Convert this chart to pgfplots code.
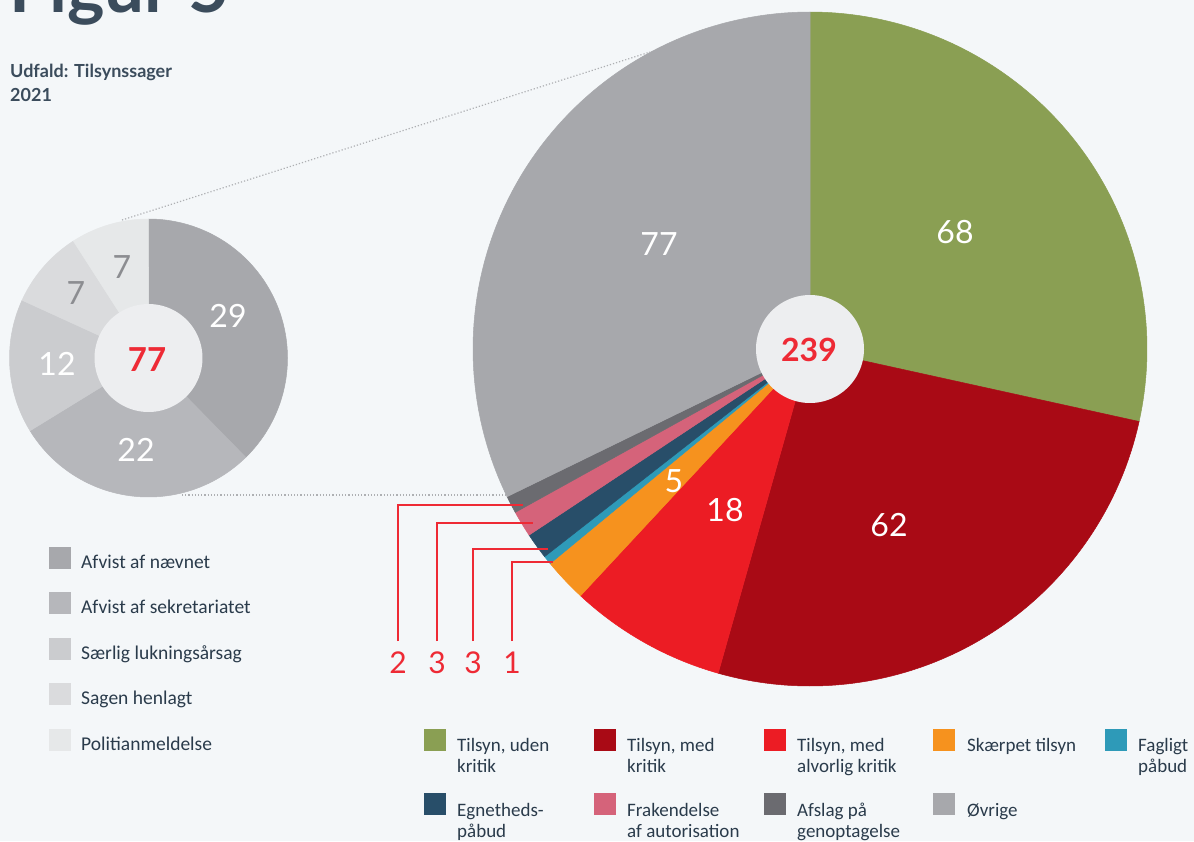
\documentclass[border=0pt]{standalone}
\usepackage{fontspec}
\setmainfont{Lato}
\newfontfamily\legendfont{Carlito}
\usepackage{pgfplots}
\pgfplotsset{compat=1.18}

\definecolor{bg}{HTML}{F4F7F9}
\definecolor{titlecol}{HTML}{3B4C5C}
\definecolor{txt}{HTML}{2A3B4B}
\definecolor{cGreen}{HTML}{8A9F53}
\definecolor{cDarkRed}{HTML}{A90A15}
\definecolor{cRed}{HTML}{EC1C24}
\definecolor{cOrange}{HTML}{F6921E}
\definecolor{cTeal}{HTML}{2E9AB8}
\definecolor{cNavy}{HTML}{284E69}
\definecolor{cPink}{HTML}{D5637A}
\definecolor{cDGray}{HTML}{6B6B70}
\definecolor{cGray}{HTML}{A7A8AC}
\definecolor{sA}{HTML}{A7A8AC}
\definecolor{sB}{HTML}{B6B7BB}
\definecolor{sC}{HTML}{CBCCCF}
\definecolor{sD}{HTML}{DADBDD}
\definecolor{sE}{HTML}{E6E8E9}
\definecolor{hole}{HTML}{EDEEF0}
\definecolor{callout}{HTML}{EE2A35}
\definecolor{sevencol}{HTML}{8C8D91}
\definecolor{dots}{HTML}{AEB0B3}

% #1 cx, #2 cy, #3 r, #4 total, #5 list value/color (clockwise from 12 o'clock)
\newcommand\drawpie[5]{%
  \gdef\cumval{0}%
  \foreach \v/\c in {#5} {%
    \pgfmathsetmacro\aS{\cumval/#4*360}%
    \pgfmathsetmacro\aE{(\cumval+\v)/#4*360}%
    \edef\tmp{\noexpand\addplot[fill=\c, draw=\c, line width=0.5pt, domain=\aS:\aE, samples=120]
      ({#1+#3*sin(x)},{#2-#3*cos(x)}) -- (axis cs:#1,#2) -- cycle;}%
    \tmp
    \pgfmathsetmacro\newcum{\cumval+\v}%
    \xdef\cumval{\newcum}%
  }%
}

\begin{document}
\begin{tikzpicture}[x=1pt,y=1pt]
\useasboundingbox (0,0) rectangle (1194,841);
\fill[bg] (0,0) rectangle (1194,841);
\begin{axis}[at={(0,0)}, anchor=south west, scale only axis,
  width=1194pt, height=841pt, xmin=0, xmax=1194, ymin=0, ymax=841,
  y dir=reverse, hide axis, clip=false]

% titles
\node[anchor=base west, inner sep=0, text=titlecol, font=\fontsize{71}{71}\selectfont\bfseries] at (axis cs:9,12) {Figur 5};
\node[anchor=base west, inner sep=0, text=titlecol, font=\fontsize{18}{22}\selectfont\bfseries] at (axis cs:10,77) {Udfald: Tilsynssager};
\node[anchor=base west, inner sep=0, text=titlecol, font=\fontsize{18}{22}\selectfont\bfseries] at (axis cs:10,101) {2021};

% connector dotted lines
\addplot[dots, dotted, line width=1.2pt] coordinates {(122,220) (650,52)};
\addplot[dots, dotted, line width=1.2pt] coordinates {(182,495) (508,495)};

% big pie
\drawpie{810}{349}{337}{239}{68/cGreen,62/cDarkRed,18/cRed,5/cOrange,1/cTeal,3/cNavy,3/cPink,2/cDGray,77/cGray}
\addplot[fill=hole, draw=none, domain=0:360, samples=120] ({810+54*sin(x)},{349-54*cos(x)}) -- cycle;

% small pie
\drawpie{148.5}{358}{139}{77}{29/sA,22/sB,12/sC,7/sD,7/sE}
\addplot[fill=hole, draw=none, domain=0:360, samples=120] ({148.5+54*sin(x)},{358-54*cos(x)}) -- cycle;

% slice labels
\begin{scope}[every node/.style={font=\fontsize{32}{32}\selectfont, text=white, inner sep=0}]
\node at (axis cs:955,232) {68};
\node at (axis cs:889,525) {62};
\node at (axis cs:725,510) {18};
\node at (axis cs:674,481) {5};
\node at (axis cs:659,244) {77};
\node at (axis cs:228,316) {29};
\node at (axis cs:136,450) {22};
\node at (axis cs:57,364) {12};
\node[text=sevencol] at (axis cs:76,293) {7};
\node[text=sevencol] at (axis cs:122,267) {7};
\end{scope}
\node[font=\fontsize{32}{32}\selectfont\bfseries, text=callout, inner sep=0] at (axis cs:809,350) {239};
\node[font=\fontsize{33}{33}\selectfont\bfseries, text=callout, inner sep=0] at (axis cs:147,360) {77};

% callouts for small slices
\addplot[callout, line width=1.3pt] coordinates {(398,641) (398,505) (523,505)};
\addplot[callout, line width=1.3pt] coordinates {(437,641) (437,523) (533,523)};
\addplot[callout, line width=1.3pt] coordinates {(473,641) (473,549) (548,549)};
\addplot[callout, line width=1.3pt] coordinates {(512,641) (512,562) (553,562)};
\begin{scope}[every node/.style={font=\fontsize{30}{30}\selectfont, text=callout, inner sep=0}]
\node at (axis cs:398,663) {2};
\node at (axis cs:437,663) {3};
\node at (axis cs:473,663) {3};
\node at (axis cs:512,663) {1};
\end{scope}

% left legend (small pie)
\addplot[only marks, mark=square*, mark size=10.5pt, mark options={draw=sA, fill=sA}] coordinates {(59.5,557.5)};
\addplot[only marks, mark=square*, mark size=10.5pt, mark options={draw=sB, fill=sB}] coordinates {(59.5,603)};
\addplot[only marks, mark=square*, mark size=10.5pt, mark options={draw=sC, fill=sC}] coordinates {(59.5,648.5)};
\addplot[only marks, mark=square*, mark size=10.5pt, mark options={draw=sD, fill=sD}] coordinates {(59.5,694)};
\addplot[only marks, mark=square*, mark size=10.5pt, mark options={draw=sE, fill=sE}] coordinates {(59.5,739.5)};
\begin{scope}[every node/.style={anchor=base west, inner sep=0, text=txt, font=\legendfont\fontsize{19.5}{21.5}\selectfont}]
\node at (axis cs:81,568) {Afvist af nævnet};
\node at (axis cs:81,613.5) {Afvist af sekretariatet};
\node at (axis cs:81,659) {Særlig lukningsårsag};
\node at (axis cs:81,704.5) {Sagen henlagt};
\node at (axis cs:81,750) {Politianmeldelse};
\end{scope}

% bottom legend (big pie)
\addplot[only marks, mark=square*, mark size=10.5pt, mark options={draw=cGreen, fill=cGreen}] coordinates {(435,739.5)};
\addplot[only marks, mark=square*, mark size=10.5pt, mark options={draw=cDarkRed, fill=cDarkRed}] coordinates {(605,739.5)};
\addplot[only marks, mark=square*, mark size=10.5pt, mark options={draw=cRed, fill=cRed}] coordinates {(775,739.5)};
\addplot[only marks, mark=square*, mark size=10.5pt, mark options={draw=cOrange, fill=cOrange}] coordinates {(944,739.5)};
\addplot[only marks, mark=square*, mark size=10.5pt, mark options={draw=cTeal, fill=cTeal}] coordinates {(1116,739.5)};
\addplot[only marks, mark=square*, mark size=10.5pt, mark options={draw=cNavy, fill=cNavy}] coordinates {(435,804)};
\addplot[only marks, mark=square*, mark size=10.5pt, mark options={draw=cPink, fill=cPink}] coordinates {(605,804)};
\addplot[only marks, mark=square*, mark size=10.5pt, mark options={draw=cDGray, fill=cDGray}] coordinates {(775,804)};
\addplot[only marks, mark=square*, mark size=10.5pt, mark options={draw=cGray, fill=cGray}] coordinates {(944,804)};
\begin{scope}[every node/.style={anchor=base west, inner sep=0, text=txt, font=\legendfont\fontsize{19}{21.5}\selectfont}]
\node at (axis cs:457,751) {Tilsyn, uden};
\node at (axis cs:457,772.5) {kritik};
\node at (axis cs:627,751) {Tilsyn, med};
\node at (axis cs:627,772.5) {kritik};
\node at (axis cs:797,751) {Tilsyn, med};
\node at (axis cs:797,772.5) {alvorlig kritik};
\node at (axis cs:967,751) {Skærpet tilsyn};
\node at (axis cs:1138,751) {Fagligt};
\node at (axis cs:1138,772.5) {påbud};
\node at (axis cs:457,816) {Egnetheds-};
\node at (axis cs:457,837.5) {påbud};
\node at (axis cs:627,816) {Frakendelse};
\node at (axis cs:627,837.5) {af autorisation};
\node at (axis cs:797,816) {Afslag på};
\node at (axis cs:797,837.5) {genoptagelse};
\node at (axis cs:967,816) {Øvrige};
\end{scope}
\end{axis}
\end{tikzpicture}
\end{document}
